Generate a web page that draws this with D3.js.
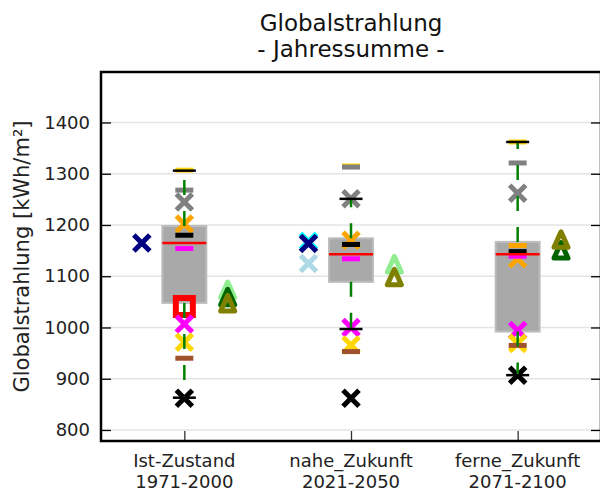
<!DOCTYPE html>
<html>
<head>
<meta charset="utf-8">
<script src="https://cdn.jsdelivr.net/npm/d3@7"></script>
<style>
  html, body { margin: 0; padding: 0; background: #fff; }
  svg { display: block; font-family: "DejaVu Sans", sans-serif; }
</style>
</head>
<body>
<svg id="chart" width="600" height="491"></svg>
<script>
// Periods on the x axis
const categories = ["Ist-Zustand", "nahe_Zukunft", "ferne_Zukunft"];
const periods = ["1971-2000", "2021-2050", "2071-2100"];
const yTicks = [800, 900, 1000, 1100, 1200, 1300, 1400];

// Box statistics per period (kWh/m²)
const boxQ1 = [1048, 1089, 992];
const boxMedian = [1165, 1143, 1143];
const boxQ3 = [1198, 1174, 1167];
const whiskerLow = [863, 997, 907];
const whiskerHigh = [1306, 1251, 1362];

// Individual model / observation values per period
const redSquare = [1041, null, null];
const cyanX = [null, 1168, null];
const navyX = [1165, 1164, null];
const lightblueX = [null, 1125, null];
const grayX = [1245, 1251, 1262];
const orangeX = [1202, 1170, 1134];
const magentaX = [1007, 1000, 994];
const goldX = [971, 966, 969];
const blackX = [862, 862, 907];
const goldBar = [1307, 1315, 1362];
const grayBar = [1268, 1313, 1321];
const orangeBar = [null, null, 1160];
const blackBar = [1180, 1162, 1148];
const magentaBar = [1154, 1134, 1139];
const siennaBar = [940, 953, 965];
const lightgreenTri = [1072, 1122, null];
const darkgreenTri = [1058, null, 1149];
const oliveTri = [1046, 1097, 1170];

// Drawing order of the point series (marker, colour, horizontal offset)
const series = [
  { values: goldBar, marker: "bar", color: "#ffd700", offset: 0 },
  { values: grayBar, marker: "bar", color: "#808080", offset: 0 },
  { values: grayX, marker: "x", color: "#808080", offset: 0 },
  { values: orangeX, marker: "x", color: "#ffa500", offset: 0 },
  { values: orangeBar, marker: "bar", color: "#ffa500", offset: 0 },
  { values: blackBar, marker: "bar", color: "#000000", offset: 0 },
  { values: magentaBar, marker: "bar", color: "#ff00ff", offset: 0 },
  { values: redSquare, marker: "square", color: "#ff0000", offset: 0 },
  { values: magentaX, marker: "x", color: "#ff00ff", offset: 0 },
  { values: goldX, marker: "x", color: "#ffd700", offset: 0 },
  { values: siennaBar, marker: "bar", color: "#a0522d", offset: 0 },
  { values: blackX, marker: "x", color: "#000000", offset: 0 },
  { values: cyanX, marker: "x", color: "#00ffff", offset: -0.255 },
  { values: navyX, marker: "x", color: "#000080", offset: -0.255 },
  { values: lightblueX, marker: "x", color: "#add8e6", offset: -0.255 },
  { values: lightgreenTri, marker: "tri", color: "#90ee90", offset: 0.26 },
  { values: darkgreenTri, marker: "tri", color: "#006400", offset: 0.26 },
  { values: oliveTri, marker: "tri", color: "#808000", offset: 0.26 }
];

const markerPath = {
  x: "M-8,-8L8,8M-8,8L8,-8",
  bar: "M-9,0L9,0",
  square: "M-8.5,-8.5L8.5,-8.5L8.5,8.5L-8.5,8.5Z",
  tri: "M0,-8.5L7,7L-7,7Z"
};
const markerWidth = { x: 5, bar: 5, square: 6, tri: 5 };

const svg = d3.select("#chart");
const plot = { left: 101, right: 601, top: 72, bottom: 441 };

const x = d3.scaleLinear().domain([0.5, 3.5]).range([plot.left, plot.right]);
const y = d3.scaleLinear().domain([778.5, 1498.5]).range([plot.bottom, plot.top]);
const boxW = x(1.264) - x(1);
const capW = x(1.138) - x(1);

// grid
svg.append("g").selectAll("line").data(yTicks).join("line")
  .attr("x1", plot.left).attr("x2", plot.right)
  .attr("y1", d => y(d)).attr("y2", d => y(d))
  .attr("stroke", "#e4e4e4").attr("stroke-width", 1.5);

const idx = [0, 1, 2];

// boxes
svg.append("g").selectAll("rect").data(idx).join("rect")
  .attr("x", i => x(i + 1) - boxW / 2)
  .attr("width", boxW)
  .attr("y", i => y(boxQ3[i]))
  .attr("height", i => y(boxQ1[i]) - y(boxQ3[i]))
  .attr("fill", "#a9a9a9")
  .attr("stroke", "#bdbdbd").attr("stroke-width", 2);

// point series
const pts = svg.append("g");
series.forEach(s => {
  s.values.forEach((v, i) => {
    if (v == null) return;
    pts.append("path")
      .attr("d", markerPath[s.marker])
      .attr("transform", `translate(${x(i + 1 + s.offset)},${y(v)})`)
      .attr("fill", "none")
      .attr("stroke", s.color)
      .attr("stroke-width", markerWidth[s.marker])
      .attr("stroke-linejoin", s.marker === "tri" ? "round" : "miter");
  });
});

// whiskers
const wh = svg.append("g").attr("stroke", "#008000").attr("stroke-width", 2.5)
  .attr("stroke-dasharray", "15,16");
idx.forEach(i => {
  wh.append("line").attr("x1", x(i + 1)).attr("x2", x(i + 1))
    .attr("y1", y(boxQ3[i])).attr("y2", y(whiskerHigh[i]));
  wh.append("line").attr("x1", x(i + 1)).attr("x2", x(i + 1))
    .attr("y1", y(boxQ1[i])).attr("y2", y(whiskerLow[i]));
});

// caps
const caps = svg.append("g").attr("stroke", "#000").attr("stroke-width", 2.5);
idx.forEach(i => {
  [whiskerLow[i], whiskerHigh[i]].forEach(v => {
    caps.append("line")
      .attr("x1", x(i + 1) - capW / 2).attr("x2", x(i + 1) + capW / 2)
      .attr("y1", y(v)).attr("y2", y(v));
  });
});

// medians
svg.append("g").selectAll("line").data(idx).join("line")
  .attr("x1", i => x(i + 1) - boxW / 2).attr("x2", i => x(i + 1) + boxW / 2)
  .attr("y1", i => y(boxMedian[i])).attr("y2", i => y(boxMedian[i]))
  .attr("stroke", "#ff0000").attr("stroke-width", 2.5);

// axes
const yAxis = svg.append("g")
  .attr("transform", `translate(${plot.left},0)`)
  .call(d3.axisLeft(y).tickValues(yTicks).tickSize(-10).tickPadding(11).tickFormat(d3.format("d")));
yAxis.select(".domain").remove();
yAxis.selectAll(".tick line").attr("stroke", "#000").attr("stroke-width", 1.3);
yAxis.selectAll(".tick text").attr("font-size", 18).attr("fill", "#222")
  .attr("font-family", "DejaVu Sans");

const yAxisR = svg.append("g")
  .attr("transform", `translate(${plot.right},0)`)
  .call(d3.axisRight(y).tickValues(yTicks).tickSize(-10).tickFormat(""));
yAxisR.select(".domain").remove();
yAxisR.selectAll(".tick line").attr("stroke", "#000").attr("stroke-width", 1.3);

const xAxis = svg.append("g")
  .attr("transform", `translate(0,${plot.bottom})`)
  .call(d3.axisBottom(x).tickValues([1, 2, 3]).tickSize(-10).tickFormat(""));
xAxis.select(".domain").remove();
xAxis.selectAll(".tick line").attr("stroke", "#333").attr("stroke-width", 1.3);

const xl = svg.append("g").attr("font-size", 18).attr("fill", "#222").attr("text-anchor", "middle");
idx.forEach(i => {
  const t = xl.append("text").attr("x", x(i + 1));
  t.append("tspan").attr("x", x(i + 1)).attr("y", 467).text(categories[i]);
  t.append("tspan").attr("x", x(i + 1)).attr("y", 488).text(periods[i]);
});

// frame
svg.append("rect")
  .attr("x", plot.left).attr("y", plot.top)
  .attr("width", plot.right - plot.left).attr("height", plot.bottom - plot.top)
  .attr("fill", "none").attr("stroke", "#000").attr("stroke-width", 2.5);

// titles
const title = svg.append("text").attr("text-anchor", "middle").attr("font-size", 23).attr("fill", "#111");
title.append("tspan").attr("x", 351).attr("y", 31).text("Globalstrahlung");
title.append("tspan").attr("x", 351).attr("y", 57).text("- Jahressumme -");

svg.append("text")
  .attr("transform", "translate(28.5,256.5) rotate(-90)")
  .attr("text-anchor", "middle").attr("font-size", 21).attr("fill", "#222")
  .text("Globalstrahlung [kWh/m²]");
</script>
</body>
</html>
